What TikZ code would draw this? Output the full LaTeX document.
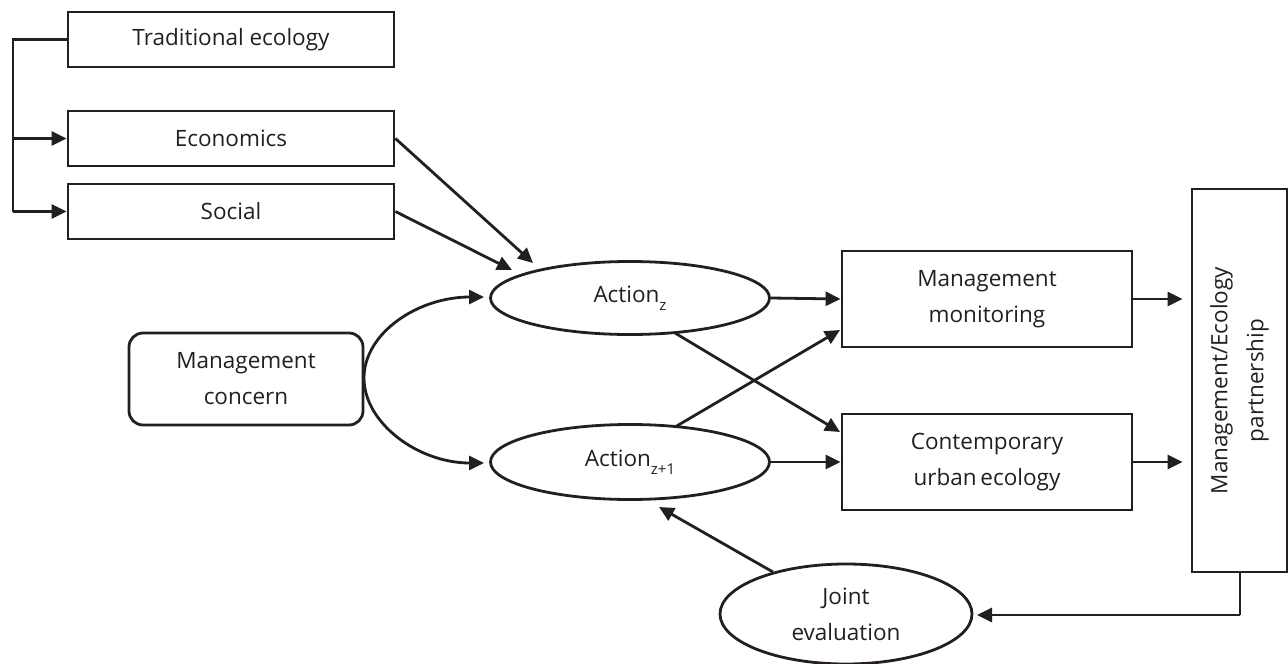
\documentclass[tikz,border=0pt]{standalone}
\usepackage{fontspec}
\setmainfont{Open Sans}
\usetikzlibrary{arrows.meta,shapes.geometric}
\definecolor{ink}{HTML}{231F20}
\tikzset{
  every node/.style={font=\fontsize{22.5}{36}\selectfont, text=ink},
  box/.style={draw=ink, line width=2.8pt, rectangle, inner sep=0pt, align=center},
  rbox/.style={draw=ink, line width=2.8pt, rectangle, rounded corners=14pt, inner sep=0pt, align=center},
  ell/.style={draw=ink, line width=2.8pt, ellipse, inner sep=0pt, align=center},
  conn/.style={line width=2.8pt, draw=ink},
  arr/.style={conn, -{Triangle[length=15pt,width=14pt]}},
}
\begin{document}
\begin{tikzpicture}[x=1pt,y=-1pt]
\useasboundingbox (0,0) rectangle (1288,664);
% boxes
\node[box, minimum width=326, minimum height=55] (trad) at (231,39.5) {Traditional ecology};
\node[box, minimum width=326, minimum height=55] (econ) at (231,138.5) {Economics};
\node[box, minimum width=326, minimum height=55] (soc) at (231,211.5) {Social};
\node[rbox, minimum width=234, minimum height=92] (mc) at (246,379) {Management\\concern};
\node[ell, minimum width=279, minimum height=73] (az) at (630,298) {Action\raisebox{-8pt}{\fontsize{15}{15}\selectfont z}};
\node[ell, minimum width=279, minimum height=75] (az1) at (630,462) {Action\raisebox{-8pt}{\fontsize{15}{15}\selectfont z+1}};
\node[box, minimum width=290, minimum height=96] (mm) at (987,299) {Management\\monitoring};
\node[box, minimum width=290, minimum height=96] (cue) at (987,462) {Contemporary\\urban\,ecology};
\node[box, minimum width=95, minimum height=383] (mep) at (1239.5,380.5) {};
\node[rotate=90, align=center] (meptext) at (mep.center) {Management/Ecology\\partnership};
\node[ell, minimum width=252, minimum height=100] (je) at (846,614) {Joint\\evaluation};
% coordinates
\coordinate (b1) at (13,39.5);
\coordinate (b2) at (13,138.5);
\coordinate (b3) at (13,211.5);
\coordinate (ecT) at (533,263);
\coordinate (soT) at (512,270);
\coordinate (mcR) at (364,378);
\coordinate (azL) at (484,297);
\coordinate (az1L) at (484,463);
\coordinate (azB) at (675,333);
\coordinate (az1T) at (675,427);
\coordinate (cueT) at (840,432);
\coordinate (mmT) at (840,330);
\coordinate (jeT) at (773,572);
\coordinate (az1B) at (659,507);
\coordinate (mepB) at (1240,615);
\coordinate (jeR) at (977,615);
% connectors
\draw[conn] (trad.west) -- (b1) -- (b3);
\draw[arr] (b2) -- (econ.west);
\draw[arr] (b3) -- (soc.west);
\draw[arr] (econ.east) -- (ecT);
\draw[arr] (soc.east) -- (soT);
\draw[arr] (mcR) .. controls (364,333) and (418,297) .. (azL);
\draw[arr] (mcR) .. controls (364,423) and (418,463) .. (az1L);
\draw[arr] (az.east) -- (mm.west);
\draw[arr] (az1.east) -- (cue.west);
\draw[arr] (azB) -- (cueT);
\draw[arr] (az1T) -- (mmT);
\draw[arr] (mm.east) -- ([xshift=-8pt]mm.east -| mep.west);
\draw[arr] (cue.east) -- ([xshift=-8pt]cue.east -| mep.west);
\draw[conn] (mep.south -| mepB) -- (mepB);
\draw[arr] (mepB) -- (jeR);
\draw[arr] (jeT) -- (az1B);
\end{tikzpicture}
\end{document}
